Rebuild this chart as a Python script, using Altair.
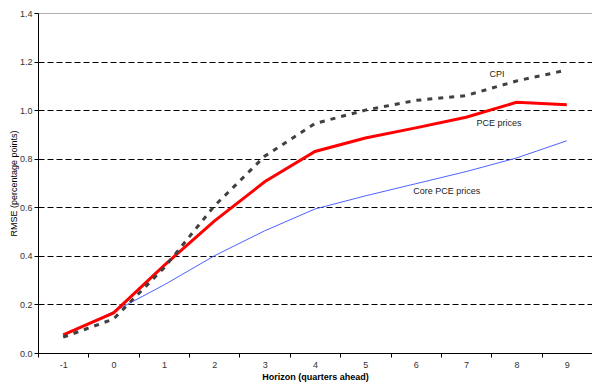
import altair as alt
import pandas as pd

horizons = [-1, 0, 1, 2, 3, 4, 5, 6, 7, 8, 9]
cpi = [0.065, 0.14, 0.35, 0.605, 0.81, 0.945, 1.0, 1.04, 1.06, 1.12, 1.165]
pce = [0.075, 0.165, 0.36, 0.543, 0.705, 0.83, 0.885, 0.927, 0.971, 1.032, 1.022]
core = [0.07, 0.17, 0.28, 0.40, 0.503, 0.593, 0.647, 0.697, 0.747, 0.803, 0.874]

series_names = ["Core PCE prices", "PCE prices", "CPI"]
series_vals = [core, pce, cpi]

rows = []
for name, vals in zip(series_names, series_vals):
    for h, v in zip(horizons, vals):
        rows.append({"horizon": h, "rmse": v, "series": name})
df = pd.DataFrame(rows)

label_text = ["CPI", "PCE prices", "Core PCE prices"]
label_h = [7, 7, 6]
label_y = [1.15, 0.947, 0.667]
label_dx = [31, 33, 31]
labels = pd.DataFrame({"text": label_text, "horizon": label_h, "rmse": label_y})

y_ticks = [0.0, 0.2, 0.4, 0.6, 0.8, 1.0, 1.2, 1.4]

x_enc = alt.X(
    "horizon:O",
    scale=alt.Scale(type="band", paddingInner=0, paddingOuter=0, domain=horizons),
    axis=alt.Axis(
        title="Horizon (quarters ahead)",
        labelAngle=0,
        tickBand="extent",
        tickSize=4,
        tickColor="black",
        domainColor="black",
        labelPadding=3,
        labelFontSize=9,
        labelColor="#333333",
        titleFontSize=9,
        titleFontWeight="bold",
        titlePadding=3,
        grid=False,
    ),
)
y_enc = alt.Y(
    "rmse:Q",
    scale=alt.Scale(domain=[0, 1.4], nice=False, zero=True),
    axis=alt.Axis(
        title="RMSE (percentage points)",
        values=y_ticks,
        format=".1f",
        tickSize=4,
        tickColor="black",
        domainColor="black",
        labelPadding=2,
        labelFontSize=9,
        labelColor="#333333",
        titleFontSize=9,
        titleFontWeight="normal",
        titleX=-25,
        titleY=170,
        titleBaseline="middle",
        titleAngle=270,
        grid=True,
        gridColor={"condition": {"test": "datum.value > 1.39", "value": "#a0a0a0"}, "value": "black"},
        gridDash={"condition": {"test": "datum.value > 1.39", "value": [1, 0]}, "value": [6, 3]},
        gridWidth=1,
    ),
)

base = alt.Chart(df)
core_line = base.transform_filter(alt.datum.series == "Core PCE prices").mark_line(
    color="#4d63ff", strokeWidth=1
).encode(x=x_enc, y=y_enc)
pce_line = base.transform_filter(alt.datum.series == "PCE prices").mark_line(
    color="#ff0000", strokeWidth=3
).encode(x=x_enc, y=y_enc)
cpi_line = base.transform_filter(alt.datum.series == "CPI").mark_line(
    color="#404040", strokeWidth=3, strokeDash=[5, 6]
).encode(x=x_enc, y=y_enc)

text_layers = []
for i in range(len(label_text)):
    t = alt.Chart(labels.iloc[[i]]).mark_text(
        font="Liberation Sans", fontSize=9, color="#222222", dx=int(label_dx[i]), align="center", baseline="middle"
    ).encode(x=alt.X("horizon:O"), y=alt.Y("rmse:Q"), text="text:N")
    text_layers.append(t)

chart = alt.layer(core_line, pce_line, cpi_line, *text_layers).properties(
    width=554,
    height=340,
    autosize=alt.AutoSizeParams(type="none"),
    padding={"left": 30, "top": 5, "right": 0, "bottom": 30},
).configure_view(stroke="#a0a0a0", strokeWidth=1).configure(
    font="Liberation Sans", background="white"
)

chart.save("out.html", embed_options={"renderer": "svg", "actions": False})
